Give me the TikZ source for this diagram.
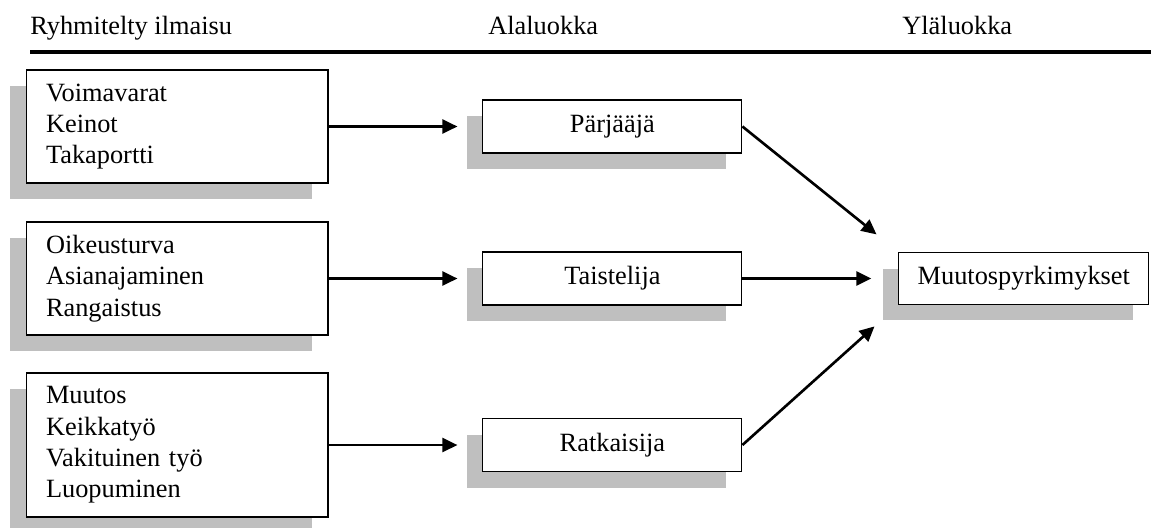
\documentclass[tikz,border=0pt]{standalone}
\usepackage{fontspec}
\setmainfont{Liberation Serif}
\usepackage{tikz}
\usetikzlibrary{arrows.meta}
\usetikzlibrary{shadows}

\tikzset{
  varjo/.style={drop shadow={fill=black!25, opacity=1, shadow xshift=-0.32cm, shadow yshift=-0.32cm}},
  ryhma/.style={draw, fill=white, line width=0.6pt, align=left, text width=5.24cm, inner xsep=0.4cm, inner ysep=0pt, varjo},
  luokka/.style={draw, fill=white, line width=0.6pt, minimum width=5.18cm, minimum height=1.06cm, inner sep=0pt, varjo},
  otsikko/.style={anchor=base west, inner sep=0pt},
  nuoli/.style={->, line width=1.5pt}
}

\begin{document}
\begin{tikzpicture}[x=0.02cm, y=-0.02cm, node distance=8.71cm, font=\fontsize{15}{17.8}\selectfont, >={Triangle[length=0.3cm, width=0.28cm]}]
 \useasboundingbox (0,0) rectangle (1151,527);
 % otsikot
 \node[name=h1, otsikko] at (30,35) {Ryhmitelty ilmaisu};
 \node[name=h2, otsikko] at (488,35) {Alaluokka};
 \node[name=h3, otsikko] at (902,35) {Yläluokka};
 \draw[line width=2.2pt] (30,52) -- (1151,52);

 \node[name=grp1, ryhma, minimum height=2.26cm] at (177,126.5) {Voimavarat\\Keinot\\Takaportti};
 \node[name=grp2, ryhma, minimum height=2.26cm] at (177,278.5) {Oikeusturva\\Asianajaminen\\Rangaistus};
 \node[name=grp3, ryhma, minimum height=2.88cm] at (177,445) {Muutos\\Keikkatyö\\Vakituinen työ\\Luopuminen};
 \node[name=parj, luokka, right of=grp1] {Pärjääjä};
 \node[name=taist, luokka, right of=grp2] {Taistelija};
 \node[name=ratk, luokka, right of=grp3] {Ratkaisija};
 \node[name=muutos, luokka, minimum width=5cm, minimum height=1.04cm, right of=taist, xshift=-0.48cm] {Muutospyrkimykset};

 \draw (grp1.east) edge[nuoli, shorten >=0.5cm] (parj.west);
 \draw (grp2.east) edge[nuoli, shorten >=0.5cm] (taist.west);
 \draw (grp3.east) edge[nuoli, shorten >=0.5cm] (ratk.west);
 \draw (parj.east) edge[nuoli, shorten >=0.56cm] (muutos.north west);
 \draw (taist.east) edge[nuoli, shorten >=0.54cm] (muutos.west);
 \draw (ratk.east) edge[nuoli, shorten >=0.64cm] (muutos.south west);
\end{tikzpicture}
\end{document}
